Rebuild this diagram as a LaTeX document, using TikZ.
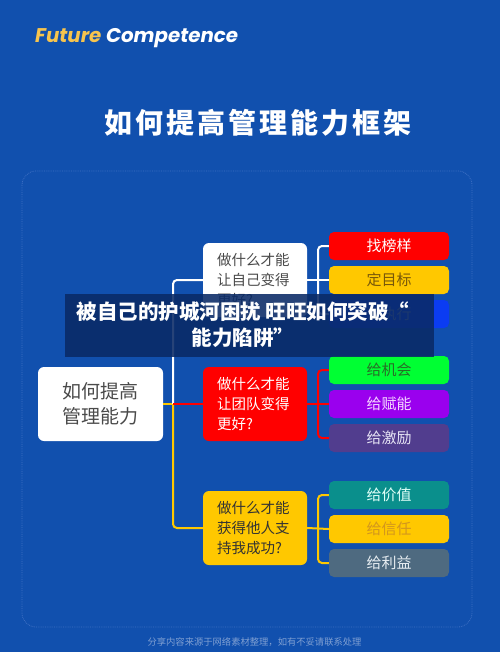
\documentclass[tikz,border=0pt]{standalone}
\usepackage{fontspec}
\newfontfamily\cjk{Noto Sans CJK SC}
\newfontfamily\latn{Poppins}
\usetikzlibrary{calc}
\definecolor{bg}{HTML}{1150AE}
\definecolor{panelline}{HTML}{3F70C4}
\definecolor{navy}{HTML}{0A2A66}
\definecolor{fy}{HTML}{F7C44E}
\definecolor{lred}{HTML}{FF0000}
\definecolor{lyel}{HTML}{FFC800}
\definecolor{lblue}{HTML}{0B3CF2}
\definecolor{lgreen}{HTML}{00FF33}
\definecolor{lpurple}{HTML}{9A00EE}
\definecolor{ldpurple}{HTML}{513D8E}
\definecolor{lteal}{HTML}{0A8F8C}
\definecolor{lslate}{HTML}{4E6A80}
\definecolor{darktxt}{HTML}{4A4A4A}
\definecolor{foot}{HTML}{7F9FD2}
\tikzset{
  leaf/.style={rounded corners=5pt, minimum width=120pt, minimum height=28pt, inner sep=0pt,
    font=\cjk\fontsize{15}{15}\selectfont},
  midbox/.style={rounded corners=6pt, minimum width=104pt, minimum height=74pt, inner xsep=14pt,
    text width=76pt, align=left, font=\cjk\fontsize{14.5}{20}\selectfont},
  conn/.style={line width=2pt},
  wl/.style={conn, draw=white},
  rl/.style={conn, draw=lred},
  yl/.style={conn, draw=lyel}
}
\begin{document}
\begin{tikzpicture}[x=1pt,y=-1pt]
\fill[bg] (0,0) rectangle (500,652);
\useasboundingbox (0,0) rectangle (500,652);
% header
\node[anchor=west, inner sep=0pt, font=\latn\bfseries\itshape\fontsize{19.8}{20}\selectfont] (brand) at (35,38)
  {\textcolor{fy}{Future} \textcolor{white}{Competence}};
\node[text=white, inner sep=0pt, font=\cjk\bfseries\fontsize{28}{28}\selectfont] (title) at (258,123)
  {如\hspace{3pt}何\hspace{3pt}提\hspace{3pt}高\hspace{3pt}管\hspace{3pt}理\hspace{3pt}能\hspace{3pt}力\hspace{3pt}框\hspace{3pt}架};
% panel
\draw[panelline, densely dotted, line width=0.8pt, rounded corners=14pt] (22,171) rectangle (472,627);
% root
\node[fill=white, rounded corners=6pt, minimum width=125pt, minimum height=74pt, inner sep=0pt,
  align=center, text=darktxt, font=\cjk\fontsize{19}{25}\selectfont] (root) at (100.5,404) {如何提高\\管理能力};
% mid nodes
\node[midbox, fill=white, text=darktxt] (m1) at (255,280) {做什么才能\\让自己变得\\更好?};
\node[midbox, fill=lred, text=white] (m2) at (255,404) {做什么才能\\让团队变得\\更好?};
\node[midbox, fill=lyel, text=black!80] (m3) at (255,528) {做什么才能\\获得他人支\\持我成功?};
% leaves
\node[leaf, fill=lred, text=white] (a1) at (389,246) {找榜样};
\node[leaf, fill=lyel, text={rgb,255:red,120;green,88;blue,10}] (a2) at (389,280) {定目标};
\node[leaf, fill=lblue, text=gray!70] (a3) at (389,314) {去执行};
\node[leaf, fill=lgreen, text={rgb,255:red,40;green,110;blue,40}] (b1) at (389,370) {给机会};
\node[leaf, fill=lpurple, text={rgb,255:red,245;green,215;blue,255}] (b2) at (389,404) {给赋能};
\node[leaf, fill=ldpurple, text={rgb,255:red,230;green,228;blue,245}] (b3) at (389,438) {给激励};
\node[leaf, fill=lteal, text={rgb,255:red,225;green,255;blue,248}] (c1) at (389,495) {给价值};
\node[leaf, fill=lyel, text={rgb,255:red,210;green,150;blue,30}] (c2) at (389,529) {给信任};
\node[leaf, fill=lslate, text={rgb,255:red,232;green,238;blue,242}] (c3) at (389,563) {给利益};
% trunk connectors
\coordinate (tr) at (173,404);
\draw[yl] (root.east) -- (tr);
\draw[wl, rounded corners=4pt] (tr) |- (m1.west);
\draw[yl, rounded corners=4pt] (tr) |- (m3.west);
\draw[rl] (tr) -- (m2.west);
% bracket connectors
\coordinate (k1) at (318,280);
\coordinate (k2) at (318,404);
\coordinate (k3) at (318,529);
\draw[wl] (m1.east) -- (a2.west);
\draw[wl, rounded corners=4pt] (a1.west) -| (k1) |- (a3.west);
\draw[rl] (m2.east) -- (b2.west);
\draw[rl, rounded corners=4pt] (b1.west) -| (k2) |- (b3.west);
\draw[yl] (m3.east) -- (c2.west);
\draw[yl, rounded corners=4pt] (c1.west) -| (k3) |- (c3.west);
% overlay banner
\fill[navy, fill opacity=0.88] (65,294) rectangle (434,357);
\node[text=white, align=center, inner sep=0pt, font=\cjk\bfseries\fontsize{20.5}{26}\selectfont] (banner) at (243,325)
  {被自己的护城河困扰 旺旺如何突破“\\能力陷阱”};
% footer
\node[text=foot, inner sep=0pt, font=\cjk\fontsize{9.3}{9.3}\selectfont] (footer) at (254.5,642)
  {分享内容来源于网络素材整理，如有不妥请联系处理};
\end{tikzpicture}
\end{document}
